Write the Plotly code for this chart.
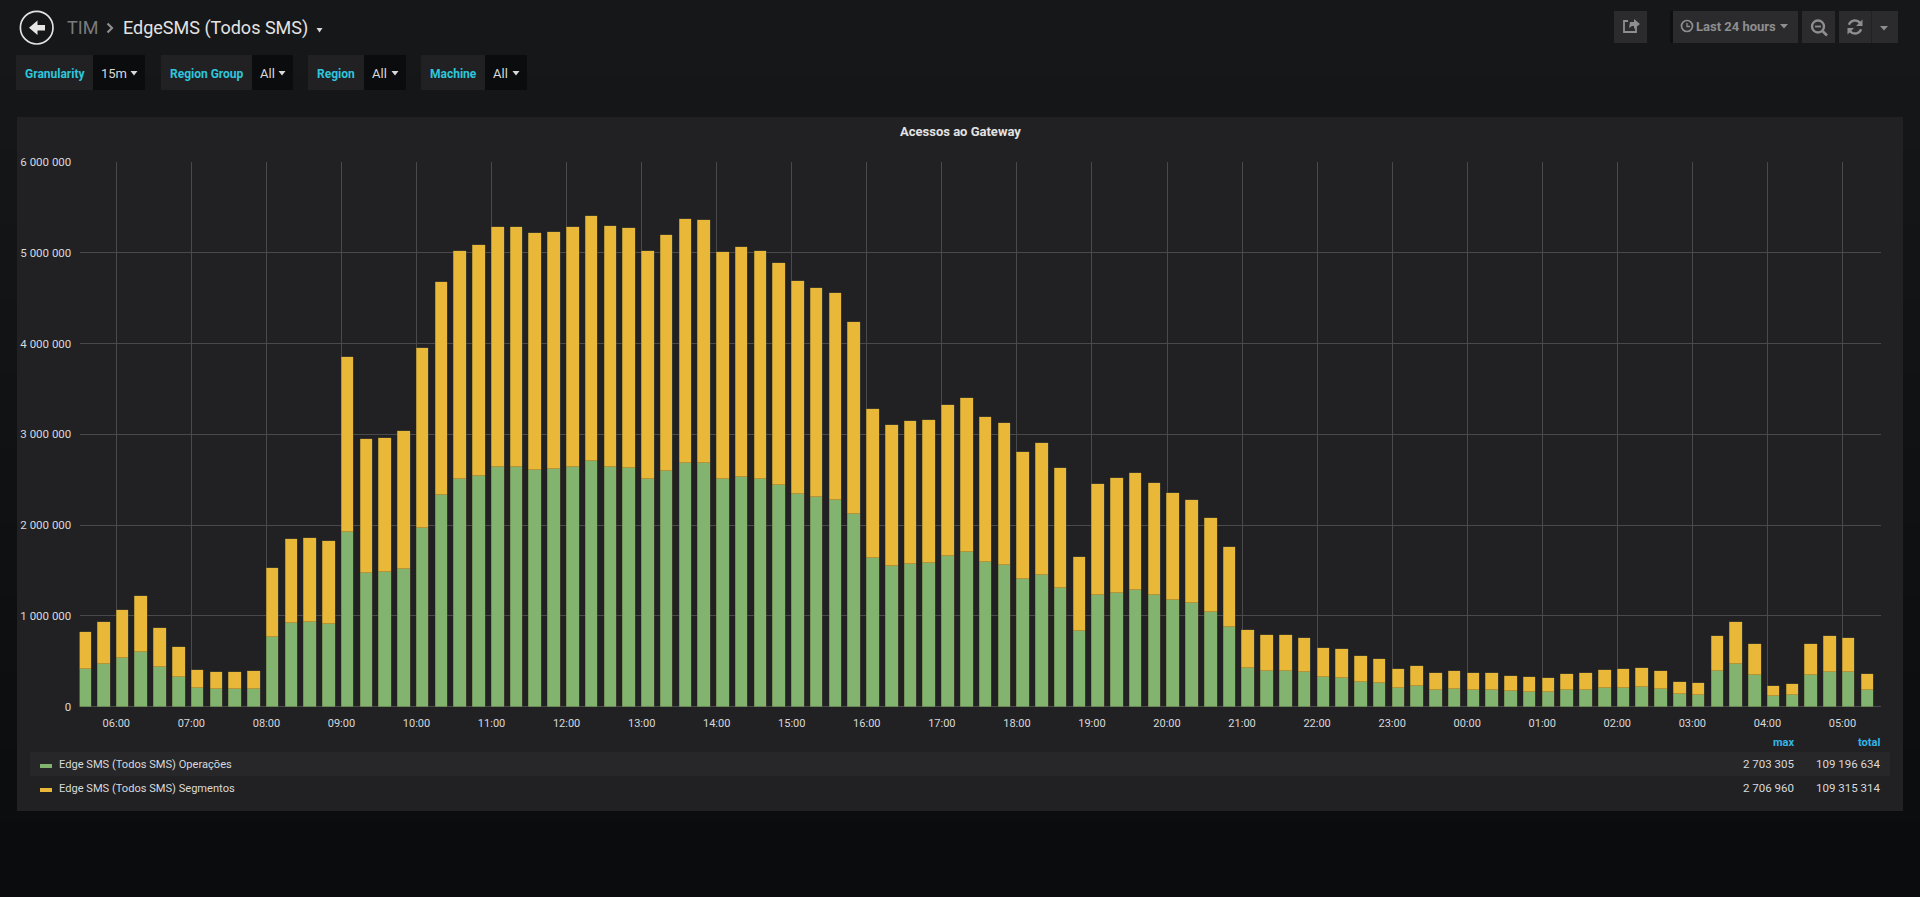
import math
import plotly.graph_objects as go
import pandas as pd

W, H = 1920, 897

# ---- data (millions) ----
times = pd.date_range("2018-05-01 05:30", periods=96, freq="15min").strftime("%Y-%m-%d %H:%M:%S").tolist()

operacoes = [
    .415, .466, .532, .606, .437, .327, .202, .195, .195, .195, .764, .921, .932, .914, 1.924, 1.472,
    1.483, 1.516, 1.971, 2.331, 2.507, 2.537, 2.639, 2.639, 2.606, 2.617, 2.639, 2.703, 2.643, 2.632, 2.507, 2.595,
    2.684, 2.684, 2.507, 2.529, 2.511, 2.445, 2.342, 2.309, 2.280, 2.122, 1.641, 1.553, 1.571, 1.582, 1.659, 1.703,
    1.593, 1.560, 1.406, 1.450, 1.311, .837, 1.226, 1.255, 1.285, 1.233, 1.175, 1.142, 1.043, .877, .426, .393,
    .393, .378, .327, .319, .275, .261, .209, .228, .187, .195, .184, .184, .173, .162, .162, .184,
    .184, .202, .206, .217, .198, .140, .128, .393, .470, .349, .114, .128, .349, .385, .378, .180,
]
totais = [
    .822, .932, 1.065, 1.215, .870, .657, .400, .378, .378, .389, 1.527, 1.845, 1.860, 1.825, 3.847, 2.944,
    2.959, 3.036, 3.950, 4.673, 5.015, 5.084, 5.279, 5.279, 5.217, 5.228, 5.283, 5.410, 5.290, 5.272, 5.015, 5.191,
    5.367, 5.363, 5.011, 5.062, 5.025, 4.890, 4.692, 4.611, 4.559, 4.240, 3.282, 3.102, 3.150, 3.161, 3.319, 3.403,
    3.190, 3.124, 2.805, 2.904, 2.625, 1.648, 2.452, 2.515, 2.577, 2.467, 2.349, 2.280, 2.078, 1.758, .848, .789,
    .789, .756, .650, .639, .558, .525, .418, .452, .374, .393, .371, .371, .338, .327, .319, .360,
    .371, .404, .415, .430, .396, .275, .261, .778, .932, .690, .224, .253, .690, .775, .756, .356,
]
segmentos = [round(t - o, 3) for t, o in zip(totais, operacoes)]

series_names = ["Edge SMS (Todos SMS) Operações", "Edge SMS (Todos SMS) Segmentos"]
series_max = ["2 703 305", "2 706 960"]
series_total = ["109 196 634", "109 315 314"]
variable_labels = ["Granularity", "Region Group", "Region", "Machine"]
variable_values = ["15m", "All", "All", "All"]

GREEN, YELLOW = "#82B470", "#E9B838"
TXT = "#d8d9da"

def px(x): return x / W
def py(y): return 1 - y / H

shapes, ann = [], []

def rect(x0, y0, x1, y1, fill, line=None, layer="below"):
    shapes.append(dict(type="rect", xref="paper", yref="paper", x0=px(x0), x1=px(x1), y0=py(y0), y1=py(y1),
                       fillcolor=fill, line=dict(color=line or fill, width=1 if line else 0), layer=layer))

def text(x, y, s, size=12, color=TXT, anchor="left", weight=None, family="Roboto"):
    ann.append(dict(x=px(x), y=py(y), xref="paper", yref="paper", text=f"<b>{s}</b>" if weight else s,
                    showarrow=False, xanchor=anchor, yanchor="middle", xshift=0,
                    font=dict(family=family, size=size, color=color), borderpad=0, borderwidth=0))

def path(points, color, width=1.5, fill=None, close=False):
    d = "M" + " L".join(f"{px(a):.5f},{py(b):.5f}" for a, b in points) + (" Z" if close else "")
    shapes.append(dict(type="path", xref="paper", yref="paper", path=d, layer="above",
                       line=dict(color=color, width=width), fillcolor=fill or "rgba(0,0,0,0)"))

def circle(cx, cy, r, color, width=1.5, fill=None):
    shapes.append(dict(type="circle", xref="paper", yref="paper", x0=px(cx - r), x1=px(cx + r),
                       y0=py(cy - r), y1=py(cy + r), line=dict(color=color, width=width),
                       fillcolor=fill or "rgba(0,0,0,0)", layer="above"))

def caret(cx, cy, color, s=4):
    path([(cx - s, cy - 2), (cx + s, cy - 2), (cx, cy + 2.5)], color, 0, fill=color, close=True)

def arc(cx, cy, r, a0, a1, n=12):
    return [(cx + r * math.cos(math.radians(a0 + (a1 - a0) * i / n)),
             cy - r * math.sin(math.radians(a0 + (a1 - a0) * i / n))) for i in range(n + 1)]

# background gradient
bands = ["#161719", "#151618", "#141517", "#131416", "#121315", "#111214", "#101113", "#0f1012", "#0e0f11", "#0d0e10", "#0c0d0f", "#0b0c0e"]
bh = H / len(bands)
for i, c in enumerate(bands):
    rect(0, i * bh, W, (i + 1) * bh + 1, c)

# panel
rect(17, 117, 1903, 811, "#212124")
# legend stripe
rect(30, 752, 1890, 776, "#27272a")

# header
circle(36.7, 27.7, 16.3, "#e3e3e3", 1.7)
path([(45, 25), (37.5, 25), (37.5, 20.5), (29, 27.7), (37.5, 35), (37.5, 30.5), (45, 30.5)], "#e6e6e6", 0, fill="#e6e6e6", close=True)
text(67, 27.5, "TIM", 18, "#7b7b7b")
path([(107.5, 23.5), (112, 28), (107.5, 32.5)], "#8e8e8e", 2.2)
text(123, 27.5, "EdgeSMS (Todos SMS)", 18, "#e3e3e3")
caret(319.5, 30, "#d8d9da", 3)

# variable bars
vx = [(16, 93, 145), (161, 252, 293), (308, 364, 406), (421, 485, 527)]
for (a, b, c), lab, val in zip(vx, variable_labels, variable_values):
    rect(a, 55, b, 90, "#212124")
    rect(b, 55, c, 90, "#0b0c0e")
    text((a + b) / 2, 73.5, lab, 12, "#2fc6dc", "center", weight=True)
    text(b + 8, 73.5, val, 13, "#d8d9da")
    caret(c - 11, 73, "#d8d9da", 3.5)

# toolbar
TB = "#2b2b2e"
ICON = "#8e8e8e"
rect(1614, 11, 1647, 43, TB)
rect(1670, 11, 1673, 43, "#0e0f11")
rect(1673, 11, 1798, 43, TB)
rect(1802, 11, 1835, 43, TB)
rect(1839, 11, 1898, 43, TB)
rect(1871, 11, 1872, 43, "#212124")
# share icon
path([(1636, 24), (1636, 32), (1624, 32), (1624, 21), (1628, 21)], ICON, 1.8)
path([(1629, 28), (1630, 22), (1634, 22), (1634, 19), (1640, 24), (1634, 29), (1634, 26), (1632, 26)], ICON, 0, fill=ICON, close=True)
# clock
circle(1687, 26, 5.5, ICON, 1.7)
path([(1687, 23), (1687, 26.5), (1690, 26.5)], ICON, 1.3)
text(1696, 27, "Last 24 hours", 13, ICON, weight=True)
caret(1784, 26, ICON, 4)
# zoom out
circle(1818, 26.5, 6, ICON, 2.4)
path([(1815, 26.5), (1821, 26.5)], ICON, 1.8)
path([(1822.5, 31), (1827, 35.5)], ICON, 2.6)
# refresh
path(arc(1855, 27, 6.5, 160, 25), ICON, 2.4)
path([(1862.5, 19.5), (1862.5, 26), (1856, 26)], ICON, 0, fill=ICON, close=True)
path(arc(1855, 27, 6.5, 340, 205), ICON, 2.4)
path([(1847.5, 34.5), (1847.5, 28), (1854, 28)], ICON, 0, fill=ICON, close=True)
caret(1884, 28, ICON, 4)

# panel title
text(960, 131, "Acessos ao Gateway", 13, "#e3e3e3", "center", weight=True)

# legend
text(1794, 742, "max", 11, "#33b5e5", "right", weight=True)
text(1880, 742, "total", 11, "#33b5e5", "right", weight=True)
for i, (n, m, t) in enumerate(zip(series_names, series_max, series_total)):
    y = 764 + 24 * i
    sw = GREEN if i == 0 else YELLOW
    rect(40, y + 0, 52, y + 4, sw)
    text(59, y, n, 11.1, TXT)
    text(1794, y, m, 11.5, TXT, "right")
    text(1880, y, t, 11.5, TXT, "right")

fig = go.Figure()
for name, vals, col in zip(series_names, [operacoes, segmentos], [GREEN, YELLOW]):
    fig.add_trace(go.Bar(
        x=times, y=[v * 1e6 for v in vals], name=name, width=603000, offset=0,
        marker=dict(color=col, line=dict(color="rgba(95,90,50,0.55)", width=0.7)),
        showlegend=False,
    ))

x_left = 79.6; x_right = 1881
y_top = 162.0; y_bot = 706.7
ms_per_px = 3600000 / 75.05
t0 = pd.Timestamp("2018-05-01 06:00:00")
xr0 = t0 - pd.Timedelta(milliseconds=(116.3 - x_left) * ms_per_px)
xr1 = t0 + pd.Timedelta(milliseconds=(x_right - 116.3) * ms_per_px)

GRID = "#4a4a4c"
fig.update_layout(
    width=W, height=H, autosize=False, barmode="stack",
    margin=dict(l=0, r=0, t=0, b=0),
    paper_bgcolor="#161719", plot_bgcolor="rgba(0,0,0,0)",
    separators=", ",
    font=dict(family="Roboto", size=11, color=TXT),
    xaxis=dict(type="date", domain=[px(x_left), px(x_right)], range=[xr0, xr1], dtick=3600000,
               tick0="2018-05-01 06:00:00", tickformat="%H:%M", gridcolor=GRID, gridwidth=1,
               showline=False, zeroline=False, ticks="outside", ticklen=6, tickcolor="rgba(0,0,0,0)",
               tickfont=dict(family="Roboto", size=11, color=TXT), automargin=False),
    yaxis=dict(domain=[py(y_bot), py(y_top)], range=[0, 6000000], dtick=1000000, tickformat=",d",
               gridcolor=GRID, gridwidth=1, zeroline=True, zerolinecolor=GRID, zerolinewidth=1,
               showline=False, ticks="outside", ticklen=5, tickcolor="rgba(0,0,0,0)",
               tickfont=dict(family="Roboto", size=11.5, color=TXT), automargin=False),
    shapes=shapes, annotations=ann, bargap=0,
)

fig.write_html("out.html", config=dict(displayModeBar=False),
               post_script="document.body.style.margin='0';document.body.style.overflow='hidden';document.body.style.background='#161719';")
